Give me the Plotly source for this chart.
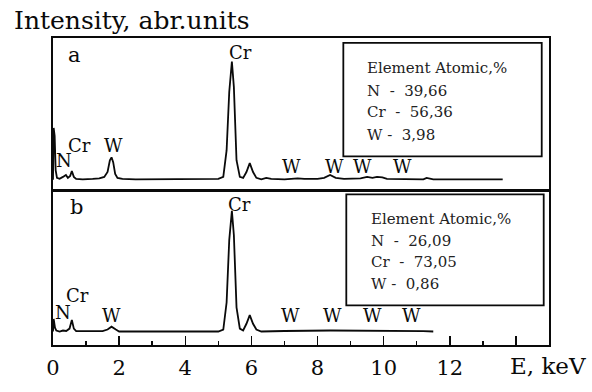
import plotly.graph_objects as go

# ---- spectrum a (energy keV, intensity arb. units) ----
energy_a = [0.00, 0.02, 0.05, 0.08, 0.12, 0.20, 0.30, 0.39, 0.45, 0.52, 0.57, 0.63, 0.70, 0.90,
            1.20, 1.40, 1.55, 1.65, 1.72, 1.77, 1.82, 1.88, 1.95, 2.10, 2.50, 3.00, 3.50, 4.00,
            4.50, 5.00, 5.15, 5.25, 5.33, 5.41, 5.47, 5.55, 5.65, 5.75, 5.85, 5.95, 6.05, 6.15,
            6.30, 6.45, 6.60, 7.00, 7.40, 7.60, 8.00, 8.20, 8.38, 8.55, 8.80, 9.30, 9.50, 9.66,
            9.80, 9.96, 10.10, 10.70, 11.20, 11.30, 11.50, 12.00, 13.60]
intensity_a = [0, 53, 45, 10, 2, 1, 3, 5, 2, 4, 9, 3, 1, 0.5,
               1, 1.5, 3, 8, 20, 23, 18, 6, 2, 1, 0.5, 0.5, 0.5, 0.3,
               0.5, 1, 3, 30, 90, 121, 95, 20, 3, 2, 8, 17, 8, 2,
               0.5, 2, 1, 0.5, 1.5, 1, 1, 2, 5, 2, 1, 1.5, 3, 2,
               3, 2.5, 1, 1, 0.5, 2, 0.5, 0.5, 0.5]

# ---- spectrum b ----
energy_b = [0.00, 0.02, 0.06, 0.10, 0.20, 0.30, 0.40, 0.50, 0.57, 0.63, 0.70, 1.50, 1.65, 1.77,
            1.90, 2.00, 3.00, 4.00, 5.00, 5.15, 5.25, 5.33, 5.41, 5.47, 5.55, 5.65, 5.75, 5.85,
            5.95, 6.05, 6.15, 6.30, 6.60, 7.00, 8.40, 9.70, 11.20, 11.50]
intensity_b = [0, 13, 4, 1, 0, 1, 0.5, 3, 12, 3, 0.5, 0.3, 2, 5,
               2, 0, 0, 0, 0, 2, 30, 95, 125, 100, 25, 3, 1, 8,
               17, 8, 2, 0, 0, 0.5, 1, 1, 0.3, 0]

# ---- peak labels ----
labels_a_text = ["Cr", "Cr", "W", "N", "W", "W", "W", "W"]
labels_a_x = [5.68, 0.81, 1.84, 0.33, 7.2, 8.5, 9.36, 10.57]
labels_a_y = [130, 35, 35, 20, 14, 14, 14, 14]

labels_b_text = ["Cr", "Cr", "N", "W", "W", "W", "W", "W"]
labels_b_x = [5.65, 0.75, 0.3, 1.78, 7.17, 8.45, 9.66, 10.84]
labels_b_y = [132, 37, 20, 17, 17, 17, 17, 17]

panel_letters = ["a", "b"]
panel_letter_x = [0.65, 0.71]
panel_letter_y = [128, 129]

box_a_lines = ["Element Atomic,%", "N  -  39,66", "Cr  -  56,36", "W -  3,98"]
box_b_lines = ["Element Atomic,%", "N  -  26,09", "Cr  -  73,05", "W -  0,86"]
box_text_y = [114, 91, 69, 46]

tick_vals = [0, 2, 4, 6, 8, 10, 12, 14]
tick_text = ["0", "2", "4", "6", "8", "10", "12", ""]

FONT = "DejaVu Serif"
INK = "#0a0a0a"
fig = go.Figure()
fig.add_trace(go.Scatter(x=energy_a, y=intensity_a, mode="lines",
                         line=dict(color=INK, width=1.8), xaxis="x2", yaxis="y2",
                         showlegend=False, hoverinfo="skip"))
fig.add_trace(go.Scatter(x=energy_b, y=intensity_b, mode="lines",
                         line=dict(color=INK, width=1.8), xaxis="x", yaxis="y",
                         showlegend=False, hoverinfo="skip"))

ann = []
for t, x, y in zip(labels_a_text, labels_a_x, labels_a_y):
    ann.append(dict(text=t, x=x, y=y, xref="x2", yref="y2", showarrow=False,
                    font=dict(family=FONT, size=18, color=INK)))
for t, x, y in zip(labels_b_text, labels_b_x, labels_b_y):
    ann.append(dict(text=t, x=x, y=y, xref="x", yref="y", showarrow=False,
                    font=dict(family=FONT, size=18, color=INK)))
for t, x, y, ax in zip(panel_letters, panel_letter_x, panel_letter_y, ["2", ""]):
    ann.append(dict(text=t, x=x, y=y, xref="x" + ax, yref="y" + ax, showarrow=False,
                    font=dict(family=FONT, size=21, color=INK)))
for t, y in zip(box_a_lines, box_text_y):
    ann.append(dict(text=t, x=9.45, y=y, xref="x2", yref="y2", showarrow=False,
                    xanchor="left", font=dict(family=FONT, size=15, color="#222")))
for t, y in zip(box_b_lines, box_text_y):
    ann.append(dict(text=t, x=9.55, y=y + 3, xref="x", yref="y", showarrow=False,
                    xanchor="left", font=dict(family=FONT, size=15, color="#222")))
ann.append(dict(text="Intensity, abr.units", x=-0.083, y=1.057, xref="paper", yref="paper",
                showarrow=False, xanchor="left", yanchor="middle",
                font=dict(family=FONT, size=25, color=INK)))
ann.append(dict(text="E, keV", x=1.078, y=-0.069, xref="paper", yref="paper",
                showarrow=False, xanchor="right", yanchor="middle",
                font=dict(family=FONT, size=23, color=INK)))

shapes = [
    dict(type="rect", xref="x2", yref="y2", x0=8.78, x1=14.78, y0=24, y1=140,
         line=dict(color=INK, width=1.8)),
    dict(type="rect", xref="x", yref="y", x0=8.87, x1=14.84, y0=27, y1=142,
         line=dict(color=INK, width=1.8)),
]

fig.update_layout(
    width=592, height=392,
    margin=dict(l=53, r=43, t=38, b=36),
    paper_bgcolor="white", plot_bgcolor="white",
    font=dict(family=FONT, color=INK),
    annotations=ann, shapes=shapes,
    xaxis=dict(domain=[0, 1], range=[0, 15], anchor="y", showgrid=False, zeroline=False,
               showline=True, mirror=True, linecolor=INK, linewidth=1.8,
               tickmode="array", tickvals=tick_vals, ticktext=tick_text,
               ticks="inside", ticklen=9, tickwidth=1.5, tickcolor=INK,
               ticklabelstandoff=3,
               tickfont=dict(family=FONT, size=21, color=INK),
               minor=dict(tickmode="array", tickvals=[1, 3, 5, 7, 9, 11, 13],
                          ticks="inside", ticklen=4, tickwidth=1.5, tickcolor=INK)),
    yaxis=dict(domain=[0, 0.503], range=[-14, 146], anchor="x", showgrid=False, zeroline=False,
               showline=True, mirror=True, linecolor=INK, linewidth=1.8,
               showticklabels=False, ticks=""),
    xaxis2=dict(domain=[0, 1], range=[0, 15], anchor="y2", showgrid=False, zeroline=False,
                showline=True, mirror=True, linecolor=INK, linewidth=1.8,
                showticklabels=False, ticks=""),
    yaxis2=dict(domain=[0.503, 1], range=[-11, 145], anchor="x2", showgrid=False, zeroline=False,
                showline=True, mirror=True, linecolor=INK, linewidth=1.8,
                showticklabels=False, ticks=""),
)

# remove the default page margin so the figure fills the 592x392 window exactly
fig.write_html("out.html", config={"displayModeBar": False, "staticPlot": True},
               post_script="document.body.style.margin='0';")
